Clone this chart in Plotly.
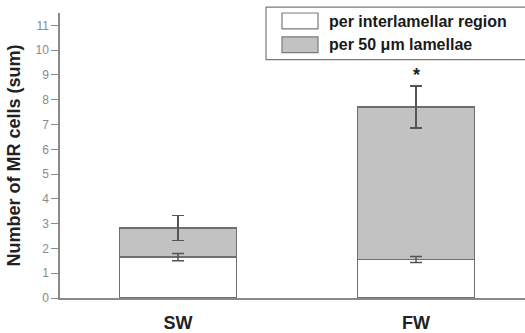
import plotly.graph_objects as go

categories = ["SW", "FW"]
interlamellar = [1.65, 1.55]
interlamellar_err = [0.15, 0.12]
lamellae = [1.17, 6.15]
lamellae_err = [0.5, 0.85]
y_ticks = list(range(0, 12))
legend_labels = ["per interlamellar region", "per 50 \u03bcm lamellae"]

L, R, T, B = 60, 0, 13, 33
W, H = 525, 333
pw, ph = W - L - R, H - T - B

def px(x):
    return (x - L) / pw

def py(y):
    return (H - B - y) / ph

err_style = dict(type="data", visible=True, color="#555555", thickness=1.5, width=6)

fig = go.Figure()
fig.add_trace(go.Bar(
    x=categories, y=interlamellar, name=legend_labels[0],
    marker=dict(color="white", line=dict(color="#6e6e6e", width=1.5)),
    width=0.49,
))
fig.add_trace(go.Bar(
    x=categories, y=lamellae, name=legend_labels[1],
    marker=dict(color="#c2c2c2", line=dict(color="#6e6e6e", width=1.5)),
    width=0.49,
    error_y=dict(array=lamellae_err, **err_style),
))
# error bars of the lower segment, drawn on top so both caps stay visible
fig.add_trace(go.Scatter(
    x=categories, y=interlamellar, mode="markers",
    marker=dict(size=1, opacity=0),
    error_y=dict(array=interlamellar_err, **err_style),
    hoverinfo="skip",
))

shapes = [
    dict(type="rect", xref="paper", yref="paper",
         x0=px(266), x1=px(526), y0=py(60), y1=py(7),
         line=dict(color="#7a7a7a", width=1.2), fillcolor="white", layer="above"),
    dict(type="rect", xref="paper", yref="paper",
         x0=px(282), x1=px(318), y0=py(29), y1=py(13),
         line=dict(color="#7a7a7a", width=1.2), fillcolor="white", layer="above"),
    dict(type="rect", xref="paper", yref="paper",
         x0=px(282), x1=px(318), y0=py(53), y1=py(37),
         line=dict(color="#7a7a7a", width=1.2), fillcolor="#c2c2c2", layer="above"),
]
annotations = [
    dict(xref="paper", yref="paper", x=px(327), y=py(22), text="<b>%s</b>" % legend_labels[0],
         showarrow=False, xanchor="left", yanchor="middle",
         font=dict(family="Liberation Sans, Arial", size=16, color="#1a1a1a")),
    dict(xref="paper", yref="paper", x=px(327), y=py(45), text="<b>%s</b>" % legend_labels[1],
         showarrow=False, xanchor="left", yanchor="middle",
         font=dict(family="Liberation Sans, Arial", size=16, color="#1a1a1a")),
    dict(x="FW", y=lamellae[1] + interlamellar[1] + lamellae_err[1], text="<b>*</b>",
         showarrow=False, yanchor="bottom", yshift=-1,
         font=dict(family="Liberation Sans, Arial", size=18, color="#222222")),
]

fig.update_layout(
    width=W, height=H,
    margin=dict(l=L, r=R, t=T, b=B, pad=0),
    barmode="stack",
    showlegend=False,
    plot_bgcolor="white", paper_bgcolor="white",
    shapes=shapes, annotations=annotations,
    font=dict(family="Liberation Sans, Arial"),
)
fig.update_xaxes(
    type="category", range=[-0.496, 1.458],
    showline=True, linecolor="#8a8a8a", linewidth=1.5,
    ticks="outside", ticklen=8, tickcolor="rgba(0,0,0,0)",
    tickfont=dict(family="Liberation Sans, Arial", size=18, color="#222222"),
    tickvals=categories, ticktext=["<b>%s</b>" % c for c in categories],
    showgrid=False, zeroline=False,
)
fig.update_yaxes(
    range=[0, 11.5], tickvals=y_ticks,
    showline=True, linecolor="#8a8a8a", linewidth=1.5,
    ticks="outside", ticklen=7, tickcolor="#8a8a8a", tickwidth=1.2,
    tickfont=dict(family="Liberation Sans, Arial", size=12, color="#8a8a8a"),
    showgrid=False, zeroline=False,
    title=dict(text="<b>Number of MR cells (sum)</b>", standoff=10,
               font=dict(family="Liberation Sans, Arial", size=18, color="#222222")),
)

fig.write_html("out.html", config={"displayModeBar": False},
               post_script="document.body.style.margin='0';")
